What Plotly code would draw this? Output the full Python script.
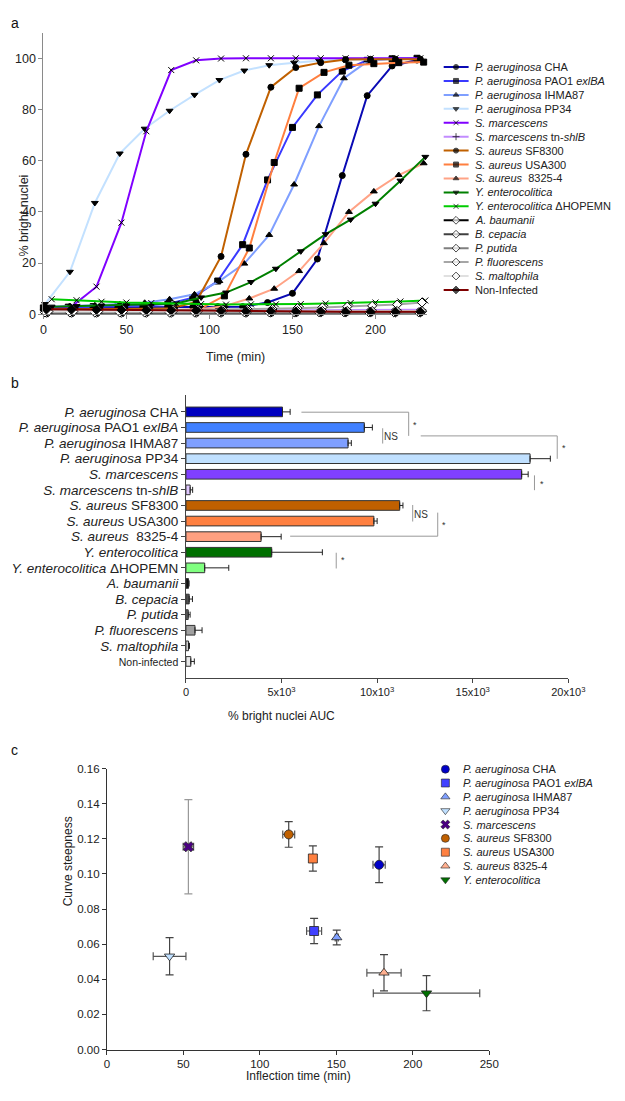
import plotly.graph_objects as go

W, H = 625, 1101
FONT = "Liberation Sans, Arial, sans-serif"


def fx(p):
    return p / W


def fy(p):
    return 1 - p / H


# ---------------- Panel a data ----------------
base_times = [0, 15, 30, 45, 60, 75, 90, 105, 120, 135, 150, 165, 180, 195, 210, 225]

strains_a = [
    "<i>P. aeruginosa</i> CHA",
    "<i>P. aeruginosa</i> PAO1 <i>exlBA</i>",
    "<i>P. aeruginosa</i> IHMA87",
    "<i>P. aeruginosa</i> PP34",
    "<i>S. marcescens</i>",
    "<i>S. marcescens</i> tn-<i>shlB</i>",
    "<i>S. aureus</i> SF8300",
    "<i>S. aureus</i> USA300",
    "<i>S. aureus</i> \u00a08325-4",
    "<i>Y. enterocolitica</i>",
    "<i>Y. enterocolitica</i> \u0394HOPEMN",
    "<i>A. baumanii</i>",
    "<i>B. cepacia</i>",
    "<i>P. putida</i>",
    "<i>P. fluorescens</i>",
    "<i>S. maltophila</i>",
    "Non-Infected",
]
time_offsets = [0, 0, 1, 1, 2, 3, 2, 4, 4, 5, 5, 2, 3, 1, 3, 3, 2]

pa_cha = [2.0, 2.3, 2.5, 2.6, 2.8, 2.8, 2.9, 3.0, 3.0, 4.6, 8.2, 21.6, 54.2, 85.4, 97.0, 99.3]
pa_pao1 = [2.5, 2.8, 3.0, 3.2, 3.4, 4.0, 6.5, 13.0, 27.2, 52.5, 73.0, 85.7, 95.0, 99.2, 99.8, 100.0]
pa_ihma87 = [3.0, 3.2, 3.5, 4.0, 4.5, 5.9, 7.8, 13.0, 19.8, 31.0, 50.7, 73.5, 92.2, 99.2, 99.8, 100.0]
pa_pp34 = [4.0, 16.6, 43.5, 62.8, 72.5, 79.5, 85.7, 91.5, 95.2, 97.3, 98.3, 99.0, 99.4, 99.6, 99.7, 99.8]
sm_wt = [2.0, 3.0, 10.8, 35.8, 71.5, 95.4, 99.2, 99.9, 100.0, 100.0, 100.0, 100.0, 100.0, 100.0, 100.0, 100.0]
sm_tn = [1.5, 1.5, 1.4, 1.4, 1.4, 1.5, 1.5, 1.5, 1.5, 1.6, 1.6, 1.6, 1.7, 1.7, 1.8, 1.8]
sa_sf8300 = [2.0, 2.0, 2.1, 2.1, 2.2, 2.4, 4.8, 22.6, 62.5, 88.7, 96.4, 98.3, 99.5, 99.6, 99.6, 99.6]
sa_usa300 = [1.5, 1.5, 1.5, 1.5, 1.5, 1.6, 2.0, 7.2, 25.9, 59.3, 88.3, 94.5, 97.3, 97.9, 98.3, 98.5]
sa_8325 = [1.2, 1.2, 1.2, 1.3, 1.3, 1.4, 2.0, 3.2, 6.2, 10.0, 16.9, 27.8, 40.0, 48.0, 54.4, 59.0]
ye_wt = [3.0, 3.2, 3.4, 3.6, 3.8, 4.2, 6.6, 8.5, 12.6, 17.8, 24.6, 31.3, 37.0, 43.2, 52.2, 61.5]
ye_hop = [5.9, 5.5, 4.9, 4.6, 4.4, 4.2, 4.0, 3.8, 3.9, 3.9, 4.0, 4.2, 4.4, 4.6, 5.0, 5.4]
ab = [0.6, 0.6, 0.6, 0.6, 0.6, 0.6, 0.6, 0.6, 0.6, 0.7, 0.7, 0.7, 0.7, 0.7, 0.7, 0.7]
bc = [0.9, 0.9, 0.9, 0.9, 1.0, 1.0, 1.0, 1.0, 1.0, 1.0, 1.0, 1.1, 1.1, 1.1, 1.1, 1.1]
pp = [0.7, 0.7, 0.7, 0.7, 0.7, 0.7, 0.8, 0.8, 0.8, 0.8, 0.8, 0.8, 0.8, 0.8, 0.8, 0.8]
pf = [1.6, 1.6, 1.6, 1.7, 1.7, 1.8, 1.8, 1.9, 2.0, 2.1, 2.4, 2.7, 3.0, 3.3, 3.8, 4.6]
smal = [1.1, 1.1, 1.1, 1.1, 1.2, 1.2, 1.2, 1.2, 1.2, 1.2, 1.3, 1.3, 1.3, 1.3, 1.3, 1.3]
non_inf = [2.0, 1.9, 1.8, 1.7, 1.6, 1.5, 1.4, 1.3, 1.2, 1.2, 1.1, 1.1, 1.0, 1.0, 1.0, 1.0]

series_a = [pa_cha, pa_pao1, pa_ihma87, pa_pp34, sm_wt, sm_tn, sa_sf8300, sa_usa300,
            sa_8325, ye_wt, ye_hop, ab, bc, pp, pf, smal, non_inf]

line_colors_a = ["#0a0ab4", "#3a3aff", "#7f9fff", "#c3e1ff", "#8000ff", "#c28cff",
                 "#c06000", "#ff7f3f", "#ffa386", "#008000", "#00cc00", "#000000",
                 "#404040", "#7f7f7f", "#a6a6a6", "#e0e0e0", "#7f0000"]
symbols_a = ["circle", "square", "triangle-up", "triangle-down", "x-thin", "cross-thin",
             "circle", "square", "triangle-up", "triangle-down", "x-thin", "diamond",
             "diamond", "diamond", "diamond", "diamond", "diamond"]
marker_fill_a = ["black"] * 11 + ["white"] * 5 + ["black"]

# ---------------- Panel b data ----------------
strains_b = [
    "<i>P. aeruginosa</i> CHA",
    "<i>P. aeruginosa</i> PAO1 <i>exlBA</i>",
    "<i>P. aeruginosa</i> IHMA87",
    "<i>P. aeruginosa</i> PP34",
    "<i>S. marcescens</i>",
    "<i>S. marcescens</i> tn-<i>shlB</i>",
    "<i>S. aureus</i> SF8300",
    "<i>S. aureus</i> USA300",
    "<i>S. aureus</i> \u00a08325-4",
    "<i>Y. enterocolitica</i>",
    "<i>Y. enterocolitica</i> \u0394HOPEMN",
    "<i>A. baumanii</i>",
    "<i>B. cepacia</i>",
    "<i>P. putida</i>",
    "<i>P. fluorescens</i>",
    "<i>S. maltophila</i>",
    "<span style='font-size:10.5px'>Non-infected</span>",
]
auc_mean = [5050, 9330, 8480, 18000, 17560, 220, 11180, 9830, 3930, 4485, 980, 135, 170, 118, 472, 135, 253]
auc_err = [400, 420, 170, 1060, 340, 130, 170, 170, 1050, 2650, 1260, 30, 170, 100, 370, 50, 185]
bar_colors = ["#0000c0", "#4080ff", "#7f9fff", "#c0e0ff", "#8040ff", "#e0c8ff", "#c06000",
              "#ff8040", "#ffa080", "#007000", "#80ff80", "#101010", "#505050", "#707070",
              "#a0a0a0", "#d0d0d0", "#e8e8e8"]
auc_ticks = [0, 5000, 10000, 15000, 20000]
auc_ticktext = ["0", "5x10<sup>3</sup>", "10x10<sup>3</sup>", "15x10<sup>3</sup>", "20x10<sup>3</sup>"]

# significance brackets: (x0, y0, x1, y1) in AUC / category-index units
bracket_lines = [
    (6040, 0.02, 11650, 0.02), (11650, 0.02, 11650, 1.54),
    (10290, 1.05, 10290, 2.03),
    (12280, 1.54, 19420, 1.54), (19420, 1.54, 19420, 3.01),
    (18230, 4.07, 18230, 5.02),
    (11860, 5.97, 11860, 7.03),
    (5450, 7.97, 13170, 7.97), (13170, 7.97, 13170, 6.46),
    (7860, 9.03, 7860, 10.04),
]
sig_labels = [("*", 12000, 0.85), ("NS", 10730, 1.55), ("*", 19790, 2.3), ("*", 18610, 4.6),
              ("NS", 12300, 6.55), ("*", 13480, 7.25), ("*", 8240, 9.5)]

# ---------------- Panel c data ----------------
strains_c = [
    "<i>P. aeruginosa</i> CHA",
    "<i>P. aeruginosa</i> PAO1 <i>exlBA</i>",
    "<i>P. aeruginosa</i> IHMA87",
    "<i>P. aeruginosa</i> PP34",
    "<i>S. marcescens</i>",
    "<i>S. aureus</i> SF8300",
    "<i>S. aureus</i> USA300",
    "<i>S. aureus</i> 8325-4",
    "<i>Y. enterocolitica</i>",
]
inflect_time = [178.0, 135.5, 150.3, 41.0, 53.3, 118.9, 134.7, 181.2, 209.0]
inflect_err = [4.0, 4.9, 1.0, 10.7, 3.4, 3.9, 2.0, 11.2, 34.8]
steepness = [0.1052, 0.0675, 0.0638, 0.0531, 0.1155, 0.1225, 0.1088, 0.0437, 0.0321]
steep_err = [0.0102, 0.0072, 0.0042, 0.0106, 0.0268, 0.0073, 0.0072, 0.0103, 0.0100]
colors_c = ["#0000c8", "#4040ff", "#80a0ff", "#c0e0ff", "#4b0082", "#c06000", "#ff8040", "#ffb090", "#007000"]
symbols_c = ["circle", "square", "triangle-up", "triangle-down", "x", "circle", "square", "triangle-up", "triangle-down"]
yerr_colors_c = ["#444", "#444", "#444", "#444", "#999", "#444", "#444", "#444", "#444"]

fig = go.Figure()

# ---------- Panel a traces ----------
for i, vals in enumerate(series_a):
    times = [t + time_offsets[i] for t in base_times]
    fig.add_trace(go.Scatter(
        x=times, y=vals, mode="lines+markers", xaxis="x", yaxis="y",
        line=dict(color=line_colors_a[i], width=2),
        marker=dict(symbol=symbols_a[i], size=6 if symbols_a[i] != "diamond" else 7,
                    color=marker_fill_a[i], line=dict(color="black", width=1)),
        showlegend=False, cliponaxis=False))

# Panel a legend (drawn on its own hidden axis, one row per strain)
for i, name in enumerate(strains_a):
    fig.add_trace(go.Scatter(x=[0, 26], y=[i, i], mode="lines", xaxis="x4", yaxis="y4",
                             line=dict(color=line_colors_a[i], width=2), showlegend=False))
fig.add_trace(go.Scatter(
    x=[13] * len(strains_a), y=list(range(len(strains_a))), mode="markers",
    xaxis="x4", yaxis="y4", showlegend=False,
    marker=dict(symbol=symbols_a, size=[5] * 11 + [6] * 6, color=marker_fill_a,
                line=dict(color="black", width=1))))

# ---------- Panel b traces ----------
fig.add_trace(go.Bar(
    x=auc_mean, y=list(range(len(strains_b))), orientation="h", xaxis="x2", yaxis="y2",
    width=0.62, marker=dict(color=bar_colors, line=dict(color="#333333", width=1)),
    error_x=dict(type="data", symmetric=False, array=auc_err, arrayminus=[0] * len(auc_err),
                 color="#222222", thickness=1, width=3),
    showlegend=False))

# ---------- Panel c traces ----------
for i in range(len(strains_c)):
    fig.add_trace(go.Scatter(
        x=[inflect_time[i]], y=[steepness[i]], mode="markers", xaxis="x3", yaxis="y3",
        error_x=dict(type="data", array=[inflect_err[i]], color="#555555", thickness=1.2, width=4),
        error_y=dict(type="data", array=[steep_err[i]], color=yerr_colors_c[i], thickness=1.2, width=4),
        marker=dict(symbol=symbols_c[i], size=9, color=colors_c[i],
                    line=dict(color="#222222", width=0.8)),
        showlegend=False))

# Panel c legend
fig.add_trace(go.Scatter(
    x=[7] * len(strains_c), y=list(range(len(strains_c))), mode="markers",
    xaxis="x5", yaxis="y5", showlegend=False,
    marker=dict(symbol=symbols_c, size=8, color=colors_c, line=dict(color="#222222", width=0.6))))

annotations = []
for i, name in enumerate(strains_a):
    annotations.append(dict(x=31, y=i, xref="x4", yref="y4", text=name, showarrow=False,
                            xanchor="left", yanchor="middle", font=dict(size=11, color="#222")))
for i, name in enumerate(strains_c):
    annotations.append(dict(x=23, y=i, xref="x5", yref="y5", text=name, showarrow=False,
                            xanchor="left", yanchor="middle", font=dict(size=11, color="#222")))
for txt, xv, yv in sig_labels:
    annotations.append(dict(x=xv, y=yv, xref="x2", yref="y2", text=txt, showarrow=False,
                            xanchor="center", yanchor="middle",
                            font=dict(size=10 if txt == "NS" else 9, color="#333")))

# axis titles and panel letters
annotations += [
    dict(x=fx(12), y=fy(169), xref="paper", yref="paper", text="% bright nuclei", textangle=-90,
         showarrow=False, font=dict(size=12.5, color="#222")),
    dict(x=fx(240), y=fy(346), xref="paper", yref="paper", text="Time (min)",
         showarrow=False, font=dict(size=12.5, color="#222")),
    dict(x=fx(288), y=fy(718), xref="paper", yref="paper", text="% bright nuclei AUC",
         showarrow=False, font=dict(size=12, color="#222")),
    dict(x=fx(58), y=fy(913), xref="paper", yref="paper", text="Curve steepness", textangle=-90,
         showarrow=False, font=dict(size=12, color="#222")),
    dict(x=fx(305), y=fy(1092), xref="paper", yref="paper", text="Inflection time (min)",
         showarrow=False, font=dict(size=12, color="#222")),
    dict(x=fx(6), y=fy(7), xref="paper", yref="paper", text="a", showarrow=False,
         font=dict(size=14, color="#111")),
    dict(x=fx(6), y=fy(382), xref="paper", yref="paper", text="b", showarrow=False,
         font=dict(size=14, color="#111")),
    dict(x=fx(6), y=fy(763), xref="paper", yref="paper", text="c", showarrow=False,
         font=dict(size=14, color="#111")),
]

shapes = [dict(type="line", xref="x2", yref="y2", x0=a, y0=b, x1=c, y1=d,
               line=dict(color="#999999", width=1)) for a, b, c, d in bracket_lines]

axis_common = dict(showgrid=False, zeroline=False, showline=True, ticks="outside",
                   ticklen=4, tickwidth=1, fixedrange=True)
hidden = dict(visible=False, fixedrange=True, showgrid=False, zeroline=False)

fig.update_layout(
    width=W, height=H, autosize=False,
    margin=dict(l=0, r=0, t=0, b=0),
    paper_bgcolor="white", plot_bgcolor="white",
    font=dict(family=FONT, color="#222"),
    showlegend=False,
    bargap=0,
    xaxis=dict(domain=[fx(41.7), fx(438)], range=[0, 231], anchor="y",
               tickvals=[0, 50, 100, 150, 200], linecolor="#8a8a8a", tickcolor="#8a8a8a",
               tickfont=dict(size=12.5), **axis_common),
    yaxis=dict(domain=[fy(312), fy(27)], range=[0, 110], anchor="x",
               tickvals=[0, 20, 40, 60, 80, 100], linecolor="#8a8a8a", tickcolor="#8a8a8a",
               tickfont=dict(size=12.5), **axis_common),
    xaxis2=dict(domain=[fx(189), fx(584)], range=[0, 20000], anchor="y2",
                tickvals=auc_ticks, ticktext=auc_ticktext, linecolor="#444", tickcolor="#444",
                tickfont=dict(size=11), **axis_common),
    yaxis2=dict(domain=[fy(680), fy(394)], range=[len(strains_b) - 1 + 1.06, -1.06], anchor="x2",
                tickvals=list(range(len(strains_b))), ticktext=strains_b, linecolor="#444",
                tickcolor="#444", tickfont=dict(size=13.5), **axis_common),
    xaxis3=dict(domain=[fx(107.3), fx(502.3)], range=[0, 250], anchor="y3",
                tickvals=[0, 50, 100, 150, 200, 250], linecolor="#333", tickcolor="#333",
                tickfont=dict(size=11.5), **axis_common),
    yaxis3=dict(domain=[fy(1056), fy(771.7)], range=[0, 0.16], anchor="x3",
                tickvals=[0, 0.02, 0.04, 0.06, 0.08, 0.10, 0.12, 0.14, 0.16], tickformat=".2f",
                linecolor="#333", tickcolor="#333", tickfont=dict(size=11.5), **axis_common),
    xaxis4=dict(domain=[fx(455), fx(625)], range=[0, 170], anchor="y4", **hidden),
    yaxis4=dict(domain=[fy(294.4), fy(54.7)], range=[16.5, -0.5], anchor="x4", **hidden),
    xaxis5=dict(domain=[fx(450), fx(625)], range=[0, 175], anchor="y5", **hidden),
    yaxis5=dict(domain=[fy(891.3), fy(765.3)], range=[8.5, -0.5], anchor="x5", **hidden),
    annotations=annotations,
    shapes=shapes,
)

fig.write_html("out.html", config={"displayModeBar": False, "staticPlot": True},
               post_script="document.body.style.margin='0';document.body.style.overflow='hidden';")
